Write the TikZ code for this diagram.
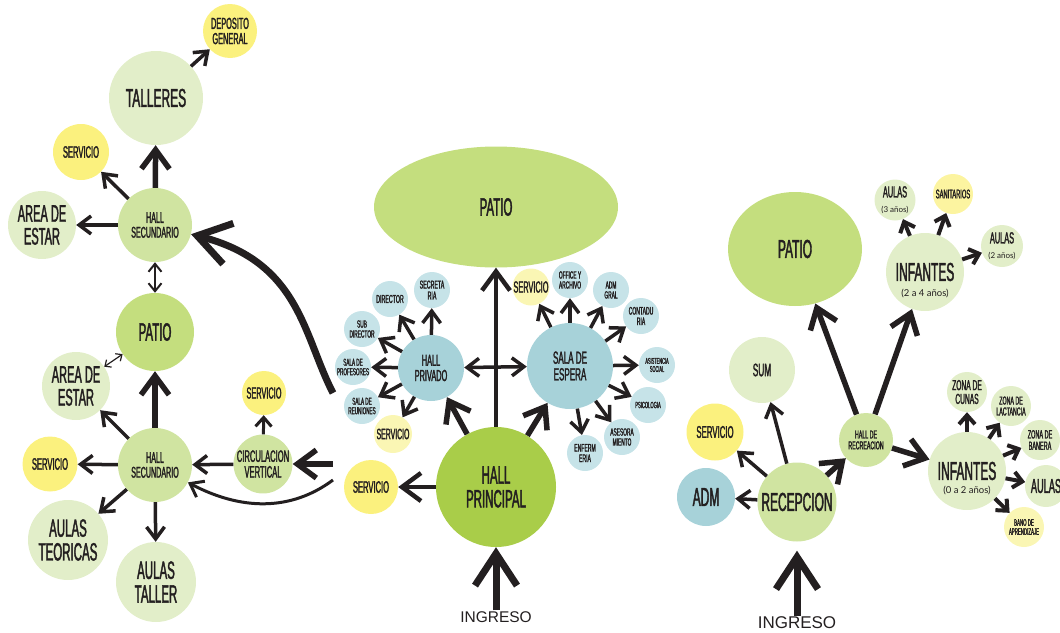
\documentclass[tikz,border=0pt]{standalone}
\usepackage{fontspec}
\setmainfont{Liberation Sans}
\newfontfamily\cnd[FakeStretch=0.46,FakeBold=1.6]{Liberation Sans}
\newfontfamily\rgl{Lato}
\newfontfamily\ingf{Liberation Sans}
\usetikzlibrary{arrows.meta,shapes.geometric}

\definecolor{ink}{HTML}{231F20}
\definecolor{cLt}{HTML}{E2EEC9}
\definecolor{cMid}{HTML}{D0E4A1}
\definecolor{cPat}{HTML}{C4DE7E}
\definecolor{cHP}{HTML}{A9CD49}
\definecolor{cYel}{HTML}{FBF17E}
\definecolor{cPale}{HTML}{FAF6B4}
\definecolor{cPaleB}{HTML}{FCF4A0}
\definecolor{cBlu}{HTML}{A7D2D9}
\definecolor{cSky}{HTML}{C6E3E8}

\begin{document}
\begin{tikzpicture}[x=1pt,y=-1pt,
  bub/.style={circle,inner sep=0pt,text=ink,align=center},
  dia/.style={minimum size=#1},
  fz/.style={font={\cnd\pgfmathsetmacro\lsk{0.95*#1}\fontsize{#1}{\lsk}\selectfont}},
  sat/.style={bub,dia=36,fill=cSky},
  oval/.style={ellipse,inner sep=0pt,text=ink,fill=cPat},
  paren/.style={inner sep=0pt,text=ink,font={\rgl\fontsize{#1}{#1}\selectfont}},
  ingtxt/.style={inner sep=1pt,text=ink,font={\ingf\fontsize{#1}{#1}\selectfont}},
  ar/.style={draw=ink},
  arM/.style={ar,line width=3.5pt,-{Straight Barb[sharp,length=12pt,width=18pt]}},
  arT/.style={ar,line width=5.5pt,-{Straight Barb[sharp,length=19pt,width=28pt]}},
  arH/.style={ar,line width=7pt,-{Straight Barb[sharp,length=32pt,width=42pt]}},
  arS/.style={ar,line width=4pt,-{Straight Barb[sharp,length=9pt,width=16pt]}},
  arD/.style={ar,line width=2pt,{Straight Barb[sharp,length=8pt,width=13pt]}-{Straight Barb[sharp,length=8pt,width=13pt]}},
  arDD/.style={ar,line width=1.2pt,{Straight Barb[sharp,length=5pt,width=9pt]}-{Straight Barb[sharp,length=5pt,width=9pt]}},
  arDM/.style={ar,line width=3.5pt,{Straight Barb[sharp,length=12pt,width=18pt]}-{Straight Barb[sharp,length=12pt,width=18pt]}}
]
\useasboundingbox (0,0) rectangle (1060,632);

% ---------- west wing ----------
\node[bub,dia=54,fill=cYel,fz=16] (dep) at (230,31) {DEPOSITO\\GENERAL};
\node[bub,dia=94,fill=cLt,fz=26] (tal) at (156,98) {TALLERES};
\node[bub,dia=56,fill=cYel,fz=16.5] (srvA) at (81,152) {SERVICIO};
\node[bub,dia=68,fill=cLt,fz=24] (aeA) at (42,225) {AREA DE\\ESTAR};
\node[bub,dia=74,fill=cMid,fz=15.5] (hsA) at (155,225) {HALL\\SECUNDARIO};
\node[bub,dia=78,fill=cPat,fz=25] (patL) at (155,332) {PATIO};
\node[bub,dia=68,fill=cLt,fz=24] (aeB) at (76,386) {AREA DE\\ESTAR};
\node[bub,dia=74,fill=cMid,fz=15.5] (hsB) at (155,465) {HALL\\SECUNDARIO};
\node[bub,dia=55,fill=cYel,fz=16.5] (srvB) at (50,464) {SERVICIO};
\node[bub,dia=80,fill=cLt,fz=25] (aut) at (68,540) {AULAS\\TEORICAS};
\node[bub,dia=80,fill=cLt,fz=25] (atl) at (156,582) {AULAS\\TALLER};
\node[bub,dia=44,fill=cYel,fz=16] (srvC) at (264,393) {SERVICIO};
\node[bub,dia=56,fill=cMid,fz=16.5] (cv) at (263,464) {CIRCULACION\\VERTICAL};

% ---------- central block ----------
\node[oval,minimum width=244,minimum height=121,fz=25] (patC) at (496,207) {PATIO};
\node[bub,dia=120,fill=cHP,fz=25] (hp) at (496,487) {HALL\\PRINCIPAL};
\node[bub,dia=54,fill=cYel,fz=16.5] (srvD) at (371,487) {SERVICIO};
\node[bub,dia=66,fill=cBlu,fz=16] (hpr) at (431,368) {HALL\\PRIVADO};
\node[bub,dia=86,fill=cBlu,fz=17.5] (se) at (570,366) {SALA DE\\ESPERA};
\node[sat,fz=11.5] (dir) at (390,299) {DIRECTOR};
\node[sat,fz=11.5] (sec) at (432,290) {SECRETA\\RIA};
\node[sat,fz=10.5] (sub) at (362,329) {SUB\\DIRECTOR};
\node[sat,fz=10] (prof) at (353,367) {SALA DE\\PROFESORES};
\node[sat,fz=10] (reu) at (362,406) {SALA DE\\REUNIONES};
\node[bub,dia=38,fill=cPale,fz=15] (srvE) at (393,434) {SERVICIO};
\node[bub,dia=37,fill=cPale,fz=16] (srvF) at (531,287) {SERVICIO};
\node[sat,fz=10.5] (off) at (570,280) {OFFICE Y\\ARCHIVO};
\node[sat,fz=10.5] (admg) at (611,290) {ADM\\GRAL};
\node[sat,fz=11] (cont) at (641,316) {CONTADU\\RIA};
\node[sat,fz=8.5] (asis) at (657,365) {ASISTENCIA\\SOCIAL};
\node[sat,fz=9] (psi) at (648,405) {PSICOLOGIA};
\node[sat,fz=10.5] (ases) at (622,437) {ASESORA\\MIENTO};
\node[sat,fz=11] (enf) at (585,453) {ENFERM\\ERIA};
\node[ingtxt=15.5] (ingL) at (496,617) {INGRESO};

% ---------- east wing ----------
\node[oval,minimum width=134,minimum height=114,fz=26] (patR) at (795,249) {PATIO};
\node[bub,dia=78,fill=cLt,fz=26] (inf24) at (925,272) {INFANTES};
\node[paren=9.5] (inf24s) at (925,294) {(2 a 4 años)};
\node[bub,dia=41,fill=cLt,fz=16] (a3) at (895,200) {AULAS\\{\rgl\fontsize{8}{8}\selectfont(3 años)}};
\node[bub,dia=40,fill=cPaleB,fz=12.5] (san) at (953,194) {SANITARIOS};
\node[bub,dia=42,fill=cLt,fz=16] (a2) at (1002,246) {AULAS\\{\rgl\fontsize{8}{8}\selectfont(2 años)}};
\node[bub,dia=66,fill=cLt,fz=18] (sum) at (762,370) {SUM};
\node[bub,dia=57,fill=cYel,fz=17] (srvR) at (715,432) {SERVICIO};
\node[bub,dia=58,fill=cBlu,fz=26] (admR) at (706,497) {ADM};
\node[bub,dia=79,fill=cMid,fz=26] (rec) at (797,502) {RECEPCION};
\node[bub,dia=54,fill=cMid,fz=11.5] (hrec) at (866,440) {HALL DE\\RECREACION};
\node[bub,dia=78,fill=cLt,fz=26] (inf02) at (967,471) {INFANTES};
\node[paren=9.5] (inf02s) at (967,491) {(0 a 2 años)};
\node[bub,dia=40,fill=cLt,fz=14.5] (cun) at (967,392) {ZONA DE\\CUNAS};
\node[bub,dia=40,fill=cLt,fz=11.5] (lac) at (1011,406) {ZONA DE\\LACTANCIA};
\node[bub,dia=40,fill=cLt,fz=12] (ban) at (1040,440) {ZONA DE\\BANERA};
\node[bub,dia=42,fill=cLt,fz=20] (aul) at (1046,486) {AULAS};
\node[bub,dia=40,fill=cPale,fz=9.5] (bap) at (1024,527) {BANO DE\\APRENDIZAJE};
\node[ingtxt=17] (ingR) at (797,623) {INGRESO};

% ---------- connectors: west wing ----------
\draw[arT] (hsA) -- (tal);
\draw[arM] (tal) -- (dep);
\draw[arM] (hsA) -- (srvA);
\draw[arM] (hsA) -- (aeA);
\draw[arD] (hsA) -- (patL);
\draw[arT] (hsB) -- (patL);
\draw[arDD] (aeB) -- (patL);
\draw[arM] (hsB) -- (aeB);
\draw[arM] (hsB) -- (srvB);
\draw[arM] (hsB) -- (aut);
\draw[arM] (hsB) -- (atl);
\draw[arM] (cv) -- (hsB);
\draw[arS,line width=3pt] (cv) -- (srvC);
\coordinate (feedA) at (333,393);
\coordinate (feedB) at (333,464);
\coordinate (feedC) at (333,480);
\draw[arH] (feedA) .. controls (303,335) and (300,262) .. (hsA);
\draw[arT] (feedB) -- (cv);
\draw[arM,line width=3pt] (feedC) .. controls (290,512) and (240,510) .. (hsB);

% ---------- connectors: central block ----------
\draw[arT,line width=4.5pt] (hp) -- (patC);
\draw[arT] (hp) -- (hpr);
\draw[arT] (hp) -- (se);
\draw[arT,line width=4.5pt] (hp) -- (srvD);
\draw[arDM] (hpr) -- (se);
\foreach \t in {dir,sec,sub,prof,reu,srvE} \draw[arM] (hpr) -- (\t);
\foreach \t in {srvF,off,admg,cont,asis,psi,ases,enf} \draw[arM] (se) -- (\t);
\draw[arH] (ingL) -- (hp);

% ---------- connectors: east wing ----------
\draw[arH,shorten >=9pt] (ingR) -- (rec);
\draw[arM] (rec) -- (admR);
\draw[arM] (rec) -- (srvR);
\draw[arM] (rec) -- (sum);
\draw[arT] (rec) -- (hrec);
\draw[arT] (hrec) -- (patR);
\draw[arT] (hrec) -- (inf24);
\draw[arT] (hrec) -- (inf02);
\foreach \t in {a3,san,a2} \draw[arS] (inf24) -- (\t);
\foreach \t in {cun,lac,ban,aul,bap} \draw[arS] (inf02) -- (\t);
\end{tikzpicture}
\end{document}
